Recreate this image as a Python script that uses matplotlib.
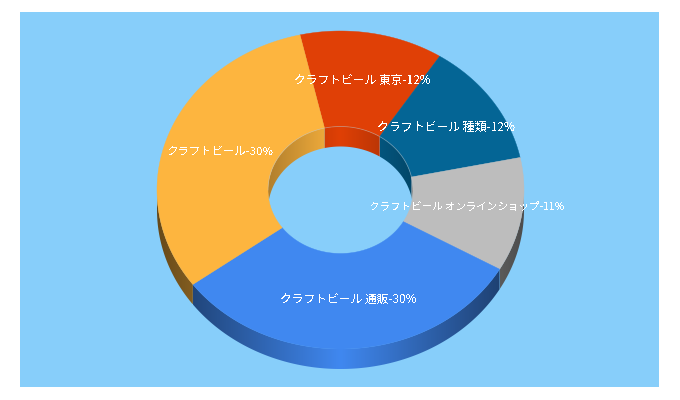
import numpy as np
import matplotlib
matplotlib.use("Agg")
import matplotlib.pyplot as plt
from matplotlib.patches import Polygon
from matplotlib.colors import to_rgb

plt.rcParams['font.family'] = ['Noto Sans CJK JP', 'DejaVu Sans']

# slices, clockwise from the first boundary
labels = ["クラフトビール 東京", "クラフトビール 種類", "クラフトビール オンラインショップ",
          "クラフトビール 通販", "クラフトビール"]
values = [12, 12, 11, 30, 30]
colors = ["#e04006", "#046595", "#bdbdbd", "#4088f0", "#fdb53f"]
label_sizes = [8.5, 8.6, 7.6, 8.5, 8.2]

BG = "#87cefa"
START = -12.75  # degrees clockwise from top
CX, CY = 340.5, 190
RX, RY = 183.5, 159
IRX, IRY = 72.5, 63.5
DEPTH = 20


def pt(theta, rx, ry):
    return CX + rx * np.sin(theta), CY - ry * np.cos(theta)


def wall(ax, a0, a1, rx, ry, color, amount, inner=False):
    # side of the ring: a left-right gradient cut to the shape of the slice
    ts = np.linspace(a0, a1, 160)
    x, y = pt(ts, rx, ry)
    low = y + DEPTH
    if inner:
        # the wall is seen through the hole, so it stops at the near rim
        near = CY + IRY * np.sqrt(np.clip(1 - ((x - CX) / IRX) ** 2, 0, 1))
        low = np.minimum(low, near)
    xy = np.column_stack([np.r_[x, x[::-1]], np.r_[y, low[::-1]]])
    shape = Polygon(xy, closed=True, fc="none", ec="none")
    ax.add_patch(shape)
    xs = np.linspace(x.min(), x.max(), 300)
    f = 1 - amount * np.abs(xs - CX) / rx
    img = np.array(to_rgb(color))[None, None, :] * f[None, :, None]
    im = ax.imshow(img, extent=(xs[0], xs[-1], low.max(), y.min()),
                   aspect="auto", interpolation="bilinear", zorder=2)
    im.set_clip_path(shape)


fig = plt.figure(figsize=(6.8, 4), dpi=100, facecolor="white")
ax = fig.add_axes([20 / 680, 1 - 387 / 400, 639 / 680, 375 / 400])
ax.set_facecolor(BG)
ax.set_xticks([])
ax.set_yticks([])
for s in ax.spines.values():
    s.set_visible(False)

shares = np.array(values) / sum(values) * 2 * np.pi
bounds = np.radians(START) + np.concatenate([[0], np.cumsum(shares)])

for i, color in enumerate(colors):
    a0, a1 = bounds[i], bounds[i + 1]
    # outer wall shows on the lower half only
    lo, hi = max(a0, np.pi / 2), min(a1, 3 * np.pi / 2)
    if hi > lo:
        wall(ax, lo, hi, RX, RY, color, 0.6)
    # inner wall shows on the upper half only
    for shift in (0, 2 * np.pi):
        lo, hi = max(a0, -np.pi / 2 + shift), min(a1, np.pi / 2 + shift)
        if hi > lo:
            wall(ax, lo, hi, IRX, IRY, color, 0.3, inner=True)

for i, color in enumerate(colors):
    a0, a1 = bounds[i], bounds[i + 1]
    ts = np.linspace(a0, a1, 120)
    ox, oy = pt(ts, RX, RY)
    ix, iy = pt(ts[::-1], IRX, IRY)
    xy = np.column_stack([np.r_[ox, ix], np.r_[oy, iy]])
    ax.add_patch(Polygon(xy, closed=True, fc=color, ec=color, lw=0.3, zorder=3))

# faint rim on the far side of the hole
ts = np.linspace(-np.pi / 2, np.pi / 2, 100)
x, y = pt(ts, IRX, IRY)
ax.plot(x, y, color="#c8c8c8", lw=0.6, alpha=0.45, zorder=4)

# labels sit half way across the ring
mid_rx, mid_ry = 128, 111
for i, name in enumerate(labels):
    mid = (bounds[i] + bounds[i + 1]) / 2
    x, y = pt(mid, mid_rx, mid_ry)
    ax.text(x, y, f"{name}-{values[i]}%", color="white", fontsize=label_sizes[i],
            ha="center", va="center", zorder=5, antialiased=False)

ax.set_xlim(20, 659)
ax.set_ylim(387, 12)

fig.savefig("out.png", dpi=100, facecolor="white")
